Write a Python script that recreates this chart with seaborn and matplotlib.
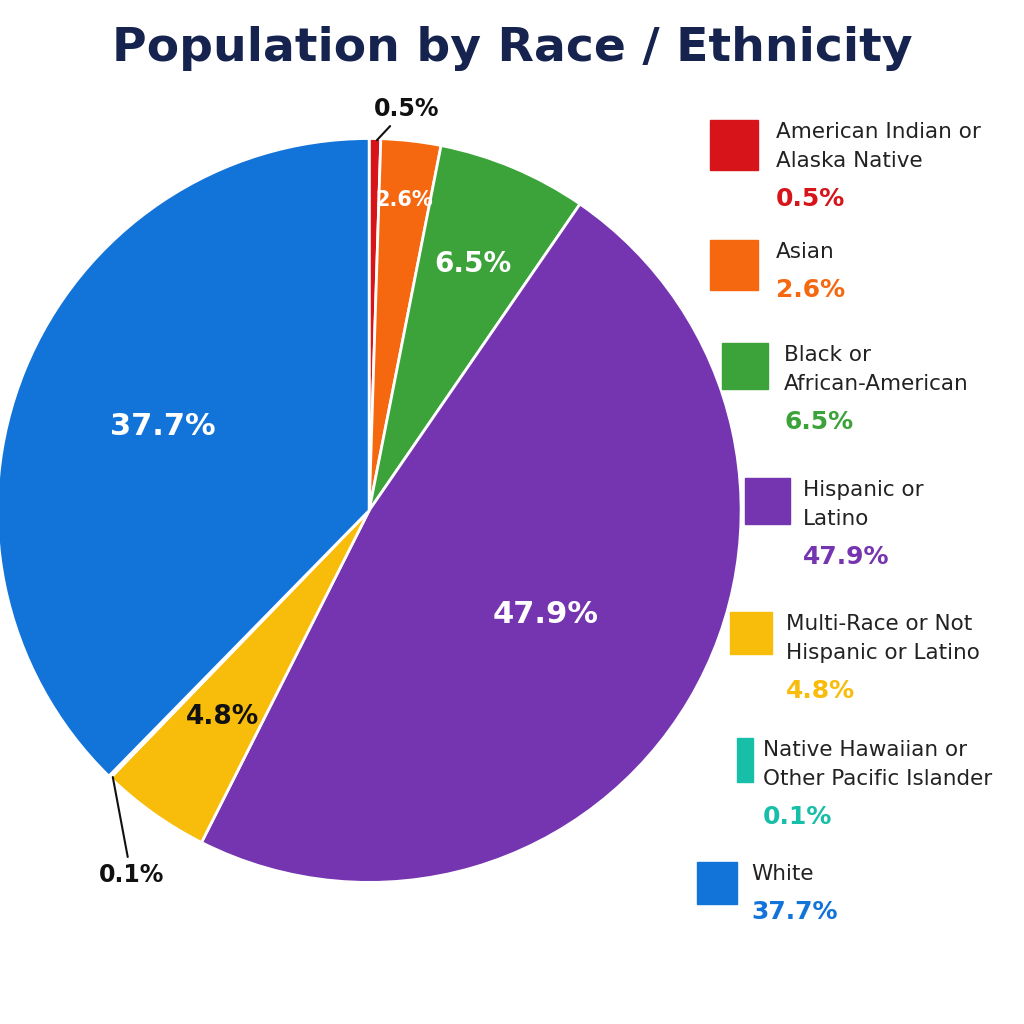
import matplotlib
matplotlib.use("Agg")
import matplotlib.pyplot as plt
import seaborn as sns
import numpy as np

sns.set_theme(style="white")
plt.rcParams['font.family'] = ['DejaVu Sans']

categories = ["American Indian or\nAlaska Native", "Asian", "Black or\nAfrican-American",
              "Hispanic or\nLatino", "Multi-Race or Not\nHispanic or Latino",
              "Native Hawaiian or\nOther Pacific Islander", "White"]
values = [0.5, 2.6, 6.5, 47.9, 4.8, 0.1, 37.7]
pct_labels = ["0.5%", "2.6%", "6.5%", "47.9%", "4.8%", "0.1%", "37.7%"]
colors = ["#D7141A", "#F5680F", "#3BA33A", "#7535B0", "#F8BC0A", "#17BFA8", "#1273D8"]

fig = plt.figure(figsize=(10.24, 10.24), dpi=100)
ax = fig.add_axes([-0.010, 0.131, 0.741, 0.741])
wedges, _ = ax.pie(values, colors=colors, startangle=90, counterclock=False,
                   wedgeprops=dict(edgecolor="white", linewidth=2))
ax.set_aspect("equal")
ax.set_xlim(-1.02, 1.02); ax.set_ylim(-1.02, 1.02)

inner = {1: (0.84, 15, "white"), 2: (0.72, 20, "white"), 3: (0.55, 22, "white"),
         4: (0.68, 19, "#111111"), 6: (0.6, 22, "white")}
for i, w in enumerate(wedges):
    ang = np.deg2rad((w.theta1 + w.theta2) / 2)
    x, y = np.cos(ang), np.sin(ang)
    if i in inner:
        r, fs, c = inner[i]
        ax.text(r * x, r * y, pct_labels[i], ha="center", va="center",
                fontsize=fs, fontweight="bold", color=c)
    elif i == 0:
        ax.annotate(pct_labels[i], xy=(0.99 * x, 0.99 * y), xytext=(0.1, 1.08),
                    ha="center", va="center", fontsize=17, fontweight="bold", color="#111111",
                    arrowprops=dict(arrowstyle="-", color="#111111", lw=1.5))
    else:
        ax.annotate(pct_labels[i], xy=(0.99 * x, 0.99 * y), xytext=(-0.64, -0.98),
                    ha="center", va="center", fontsize=17, fontweight="bold", color="#111111",
                    arrowprops=dict(arrowstyle="-", color="#111111", lw=1.5))

fig.text(0.5, 0.953, "Population by Race / Ethnicity", ha="center", va="center",
         fontsize=34, fontweight="bold", color="#16234F")

tops = [120, 240, 343, 478, 612, 738, 862]
sq_x = [710, 710, 722, 745, 730, 737, 697]
sq_w = [48, 48, 46, 45, 42, 16, 40]
sq_h = [50, 50, 46, 46, 42, 44, 42]
tx_x = [776, 776, 784, 803, 786, 763, 751]
for i, t in enumerate(tops):
    sq = plt.Rectangle((sq_x[i] / 1024, 1 - (t + sq_h[i]) / 1024), sq_w[i] / 1024, sq_h[i] / 1024,
                       transform=fig.transFigure, color=colors[i])
    fig.patches.append(sq)
    lines = categories[i].split("\n")
    yy = t + 12
    for ln in lines:
        fig.text(tx_x[i] / 1024, 1 - yy / 1024, ln, ha="left", va="center", fontsize=15.5, color="#222222")
        yy += 29
    fig.text(tx_x[i] / 1024, 1 - (yy + 9) / 1024, pct_labels[i], ha="left", va="center",
             fontsize=18, fontweight="bold", color=colors[i])

fig.savefig("out.png", dpi=100, facecolor="white")
